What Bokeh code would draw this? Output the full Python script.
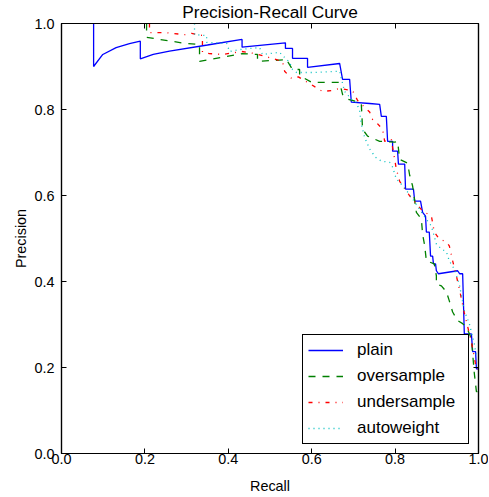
from bokeh.plotting import figure
from bokeh.models import (Range1d, LinearAxis, FixedTicker, NumeralTickFormatter,
                          Legend, LegendItem, CustomLabelingPolicy)
from bokeh.embed import file_html
from bokeh.resources import INLINE

# ---------------- data ----------------
plain_recall = [0.077, 0.077, 0.099, 0.131, 0.163, 0.189, 0.189, 0.220, 0.259, 0.350, 0.433,
                0.433, 0.537, 0.537, 0.554, 0.554, 0.590, 0.590, 0.667, 0.674, 0.691, 0.695,
                0.739, 0.763, 0.767, 0.779, 0.782, 0.794, 0.794, 0.806, 0.808, 0.823, 0.825,
                0.844, 0.847, 0.861, 0.866, 0.873, 0.875, 0.882, 0.885, 0.890, 0.892, 0.897,
                0.899, 0.904, 0.950, 0.955, 0.962, 0.966, 0.983, 0.986, 0.993, 0.995, 1.000]
plain_precision = [1.000, 0.900, 0.928, 0.944, 0.953, 0.959, 0.918, 0.928, 0.936, 0.950, 0.963,
                   0.945, 0.955, 0.942, 0.942, 0.919, 0.919, 0.898, 0.907, 0.870, 0.870, 0.817,
                   0.814, 0.812, 0.784, 0.784, 0.726, 0.726, 0.703, 0.703, 0.673, 0.673, 0.615,
                   0.615, 0.587, 0.587, 0.561, 0.552, 0.515, 0.515, 0.459, 0.459, 0.441, 0.441,
                   0.425, 0.418, 0.425, 0.418, 0.418, 0.278, 0.278, 0.237, 0.237, 0.197, 0.197]

over_recall = [0.204, 0.204, 0.235, 0.295, 0.331, 0.331, 0.434, 0.470, 0.470, 0.542, 0.542,
               0.554, 0.571, 0.571, 0.600, 0.667, 0.674, 0.686, 0.705, 0.719, 0.722, 0.734,
               0.763, 0.799, 0.806, 0.811, 0.830, 0.835, 0.842, 0.851, 0.863, 0.866, 0.871,
               0.875, 0.894, 0.899, 0.899, 0.911, 0.923, 0.930, 0.938, 0.950, 0.962, 0.971,
               0.983, 0.986, 0.990, 0.995, 1.000]
over_precision = [1.000, 0.968, 0.963, 0.954, 0.951, 0.912, 0.930, 0.928, 0.912, 0.916, 0.912,
                  0.893, 0.893, 0.879, 0.863, 0.863, 0.835, 0.824, 0.819, 0.812, 0.754, 0.738,
                  0.726, 0.724, 0.726, 0.684, 0.675, 0.647, 0.622, 0.561, 0.545, 0.510, 0.483,
                  0.448, 0.441, 0.413, 0.394, 0.390, 0.376, 0.355, 0.329, 0.309, 0.302, 0.295,
                  0.267, 0.232, 0.186, 0.144, 0.144]

under_recall = [0.211, 0.211, 0.247, 0.295, 0.312, 0.338, 0.338, 0.355, 0.386, 0.432, 0.465,
                0.530, 0.535, 0.552, 0.568, 0.626, 0.647, 0.667, 0.698, 0.710, 0.739, 0.746,
                0.755, 0.770, 0.775, 0.791, 0.794, 0.799, 0.803, 0.811, 0.835, 0.866, 0.887,
                0.894, 0.906, 0.923, 0.930, 0.938, 0.947, 0.954, 0.966, 0.974, 0.983, 0.995,
                1.000]
under_precision = [1.000, 0.979, 0.979, 0.974, 0.977, 0.972, 0.933, 0.930, 0.928, 0.935, 0.930,
                   0.912, 0.889, 0.872, 0.876, 0.842, 0.844, 0.849, 0.844, 0.821, 0.794, 0.777,
                   0.770, 0.754, 0.726, 0.731, 0.712, 0.684, 0.661, 0.633, 0.599, 0.564, 0.552,
                   0.515, 0.499, 0.492, 0.483, 0.448, 0.413, 0.383, 0.327, 0.295, 0.260, 0.197,
                   0.197]

auto_recall = [0.319, 0.319, 0.348, 0.348, 0.396, 0.403, 0.432, 0.475, 0.482, 0.523, 0.535,
               0.547, 0.554, 0.564, 0.602, 0.667, 0.671, 0.679, 0.695, 0.707, 0.715, 0.719,
               0.727, 0.739, 0.753, 0.767, 0.787, 0.794, 0.803, 0.811, 0.830, 0.847, 0.871,
               0.887, 0.899, 0.911, 0.923, 0.930, 0.942, 0.954, 0.959, 0.966, 0.978, 0.990,
               0.995, 1.000]
auto_precision = [1.000, 0.974, 0.972, 0.956, 0.954, 0.935, 0.940, 0.944, 0.928, 0.933, 0.921,
                  0.910, 0.893, 0.886, 0.886, 0.889, 0.872, 0.842, 0.824, 0.817, 0.796, 0.766,
                  0.735, 0.708, 0.689, 0.680, 0.677, 0.666, 0.638, 0.631, 0.608, 0.585, 0.550,
                  0.529, 0.487, 0.476, 0.469, 0.448, 0.429, 0.394, 0.367, 0.332, 0.302, 0.255,
                  0.225, 0.225]

series_names = ["plain", "oversample", "undersample", "autoweight"]
tick_values = [0.0, 0.2, 0.4, 0.6, 0.8, 1.0]
title_text = "Precision-Recall Curve"
x_label = "Recall"
y_label = "Precision"

# ---------------- figure ----------------
FONT = "Liberation Sans"
p = figure(width=488, height=496, output_backend="svg", toolbar_location=None,
           x_range=Range1d(0, 1), y_range=Range1d(0, 1),
           min_border_left=61, min_border_right=10, min_border_top=23, min_border_bottom=42)
p.background_fill_color = "white"
p.border_fill_color = "white"
p.xgrid.visible = False
p.ygrid.visible = False
p.outline_line_color = "black"
p.outline_line_width = 1.2
p.outline_line_alpha = 1.0

p.title.text = title_text
p.title.align = "center"
p.title.text_font = FONT
p.title.text_font_size = "17.3px"
p.title.text_font_style = "normal"
p.title.text_color = "black"
p.title.standoff = -4
p.title.offset = 0

no_labels = CustomLabelingPolicy(code="""
for (const i of indices) { indices.unset(i) }
return indices
""")


def style_axis(ax, show_labels):
    ax.ticker = FixedTicker(ticks=tick_values)
    ax.formatter = NumeralTickFormatter(format="0.0")
    ax.major_tick_in = 5
    ax.major_tick_out = 0
    ax.minor_tick_in = 0
    ax.minor_tick_out = 0
    ax.major_tick_line_color = "black"
    ax.major_tick_line_width = 1
    ax.axis_line_color = "black"
    ax.axis_line_width = 1.2
    ax.major_label_text_color = "black"
    ax.major_label_text_font = FONT
    if show_labels:
        ax.major_label_text_font_size = "14.4px"
        ax.axis_label_text_font = FONT
        ax.axis_label_text_font_size = "14.4px"
        ax.axis_label_text_font_style = "normal"
        ax.axis_label_text_color = "black"
    else:
        ax.major_label_text_font_size = "1px"
        ax.major_label_standoff = 0
        ax.axis_label_standoff = 0
        ax.major_label_policy = no_labels


xa = p.xaxis[0]
ya = p.yaxis[0]
style_axis(xa, True)
style_axis(ya, True)
xa.axis_label = x_label
ya.axis_label = y_label
xa.major_label_standoff = 0
xa.axis_label_standoff = 11
ya.major_label_standoff = 7
ya.axis_label_standoff = 2

top_ax = LinearAxis()
right_ax = LinearAxis()
style_axis(top_ax, False)
style_axis(right_ax, False)
p.add_layout(top_ax, "above")
p.add_layout(right_ax, "right")

# ---------------- curves ----------------
r_plain = p.line(plain_recall, plain_precision, line_color="#0000ff", line_width=1.3)
r_over = p.line(over_recall, over_precision, line_color="#008000", line_width=1.3,
                line_dash="7 7")
r_under = p.line(under_recall, under_precision, line_color="#ff0000", line_width=1.3,
                 line_dash="4 6 1 6")
r_auto = p.line(auto_recall, auto_precision, line_color="#00bfbf", line_width=1.3,
                line_dash="1 4")

legend = Legend(items=[LegendItem(label=series_names[0], renderers=[r_plain]),
                       LegendItem(label=series_names[1], renderers=[r_over]),
                       LegendItem(label=series_names[2], renderers=[r_under]),
                       LegendItem(label=series_names[3], renderers=[r_auto])],
                location="bottom_right", margin=9, padding=5, spacing=6,
                label_height=20, label_width=106, glyph_width=35, glyph_height=20,
                label_standoff=14,
                label_text_font=FONT, label_text_font_size="17px", label_text_color="black",
                border_line_color="black", border_line_width=1.5, border_line_alpha=1.0,
                background_fill_color="white", background_fill_alpha=1.0)
p.add_layout(legend)

open("out.html", "w").write(file_html(p, INLINE))
